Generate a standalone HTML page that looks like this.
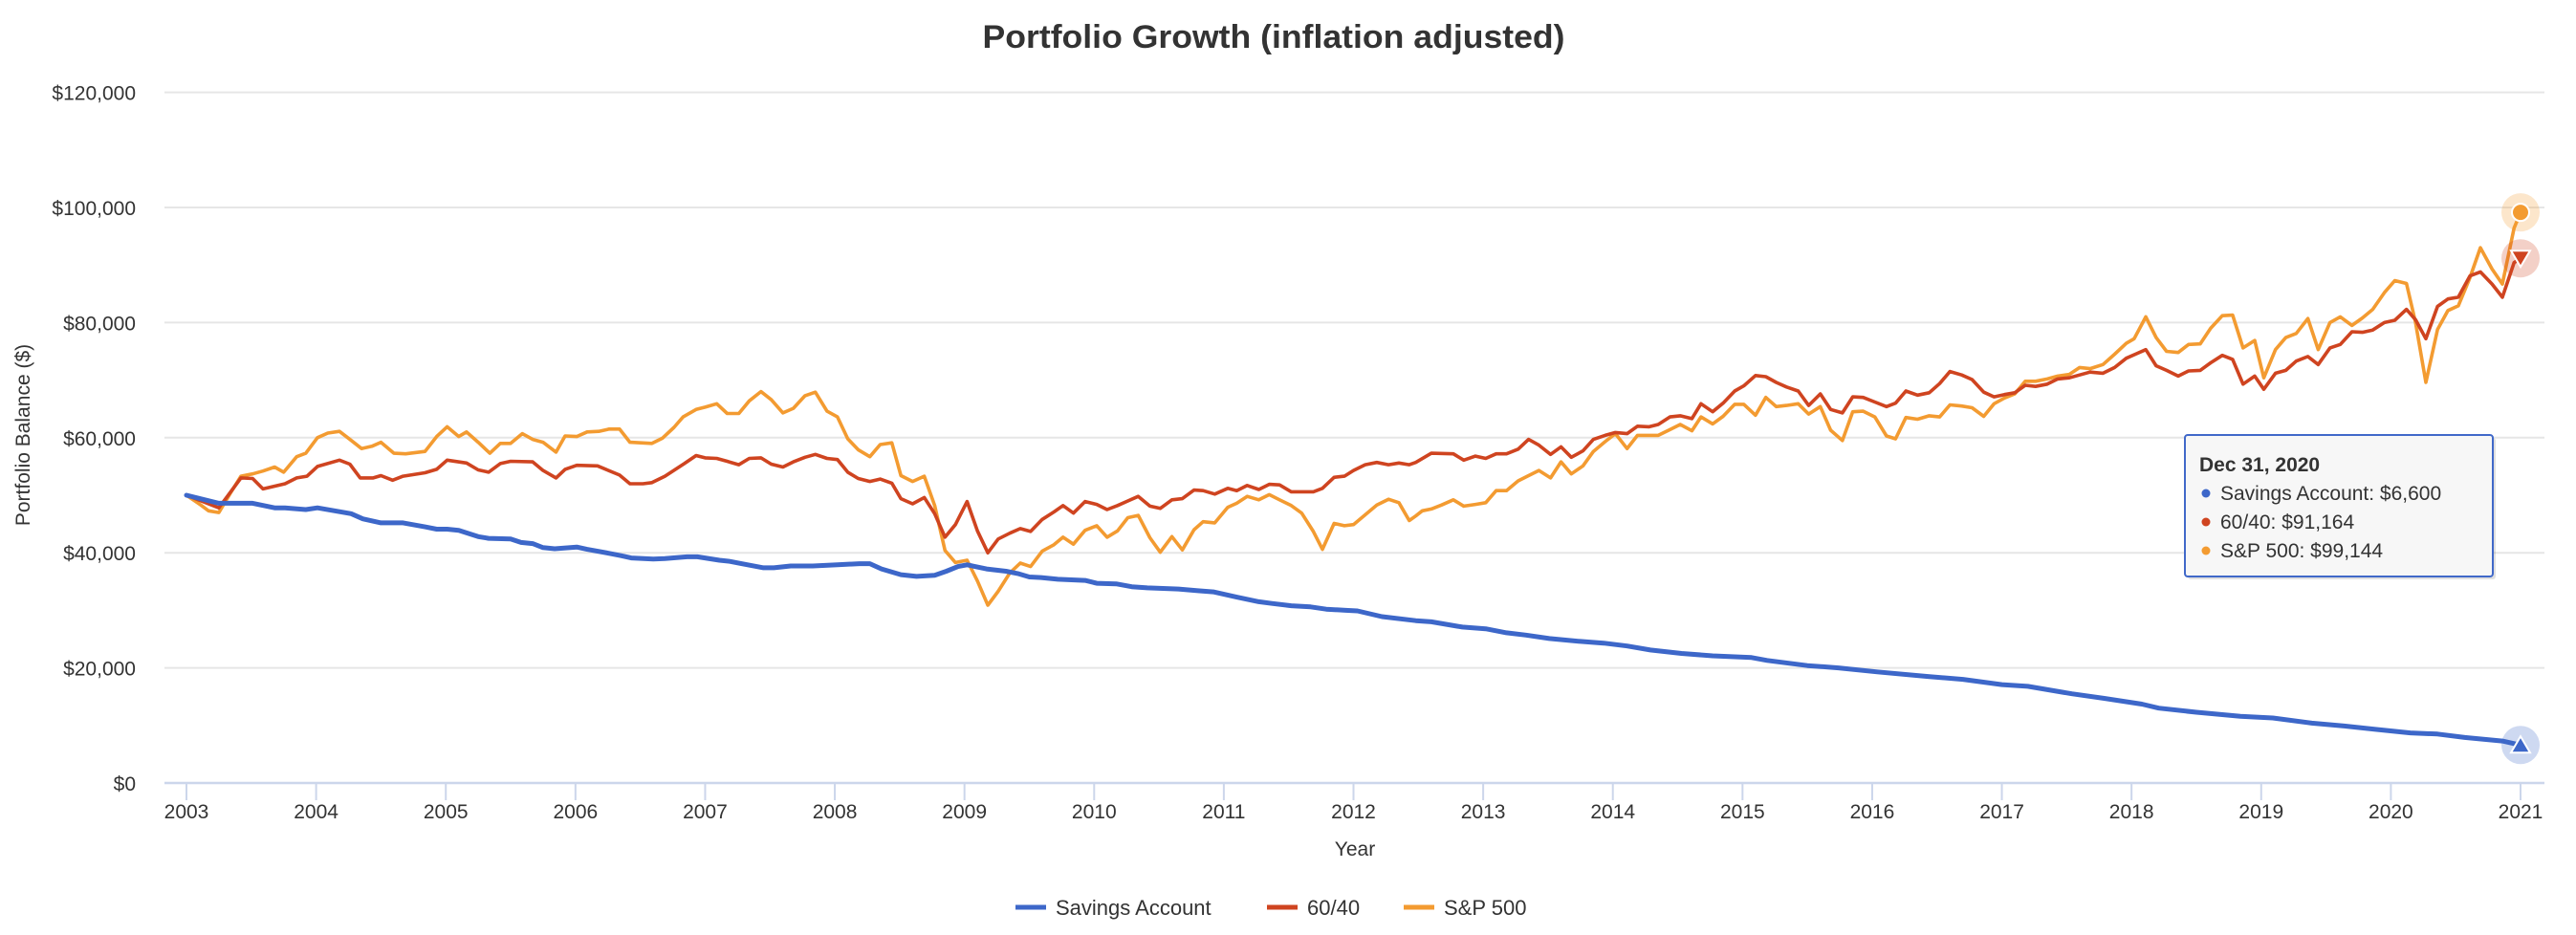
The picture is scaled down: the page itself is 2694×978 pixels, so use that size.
<!DOCTYPE html>
<html><head><meta charset="utf-8"><style>
html,body{margin:0;padding:0;background:#fff;}
svg{display:block;font-family:"Liberation Sans",Arial,sans-serif;}
</style></head><body>
<svg id="chart" width="2694" height="978" viewBox="0 0 2694 978" xmlns="http://www.w3.org/2000/svg">
<text x="1332" y="50" text-anchor="middle" font-size="34" font-weight="bold" fill="#333" textLength="609" lengthAdjust="spacingAndGlyphs">Portfolio Growth (inflation adjusted)</text>
<g id="grid"></g>
<g id="yticks"></g>
<g id="xaxis"></g>
<text transform="translate(31,455) rotate(-90)" text-anchor="middle" font-size="21" fill="#333">Portfolio Balance ($)</text>
<text x="1417" y="895" text-anchor="middle" font-size="21" fill="#333">Year</text>
<g id="series"></g>
<g id="markers"></g>
<g>
 <g><line x1="1062" y1="949" x2="1094" y2="949" stroke="#3d67c9" stroke-width="5"/><text x="1104" y="957" font-size="22" fill="#333">Savings Account</text></g>
 <g><line x1="1325" y1="949" x2="1357" y2="949" stroke="#cf4420" stroke-width="5"/><text x="1367" y="957" font-size="22" fill="#333">60/40</text></g>
 <g><line x1="1468" y1="949" x2="1500" y2="949" stroke="#f39b31" stroke-width="5"/><text x="1510" y="957" font-size="22" fill="#333">S&amp;P 500</text></g>
</g>
<g>
 <rect x="2288" y="458" width="322" height="148" rx="3" fill="#000" opacity="0.12"/>
 <rect x="2285" y="455" width="322" height="148" rx="3" fill="#f7f7f7" stroke="#4169c9" stroke-width="2"/>
 <text x="2300" y="493" font-size="21" font-weight="bold" fill="#333">Dec 31, 2020</text>
 <circle cx="2307" cy="516" r="4.5" fill="#3d67c9"/><text x="2322" y="523" font-size="21" fill="#333">Savings Account: $6,600</text>
 <circle cx="2307" cy="546" r="4.5" fill="#cf4420"/><text x="2322" y="553" font-size="21" fill="#333">60/40: $91,164</text>
 <circle cx="2307" cy="576" r="4.5" fill="#f39b31"/><text x="2322" y="583" font-size="21" fill="#333">S&amp;P 500: $99,144</text>
</g>
</svg>
<script>
const yTicks = [0, 20000, 40000, 60000, 80000, 100000, 120000];
const yTickLabels = ["$0","$20,000","$40,000","$60,000","$80,000","$100,000","$120,000"];
const xTicks = [2003,2004,2005,2006,2007,2008,2009,2010,2011,2012,2013,2014,2015,2016,2017,2018,2019,2020,2021];

const savingsDates = [2003.0,2003.25,2003.51,2003.68,2003.76,2003.92,2004.01,2004.27,2004.36,2004.5,2004.67,2004.84,2004.93,2005.01,2005.1,2005.25,2005.33,2005.5,2005.58,2005.67,2005.75,2005.84,2006.01,2006.09,2006.26,2006.35,2006.43,2006.6,2006.69,2006.86,2006.94,2007.11,2007.19,2007.28,2007.45,2007.53,2007.66,2007.83,2008.02,2008.19,2008.27,2008.36,2008.51,2008.63,2008.77,2008.86,2008.95,2009.02,2009.17,2009.32,2009.41,2009.5,2009.59,2009.72,2009.93,2010.02,2010.17,2010.29,2010.41,2010.65,2010.8,2010.92,2011.1,2011.27,2011.37,2011.52,2011.67,2011.79,2011.94,2012.03,2012.22,2012.48,2012.6,2012.84,2013.02,2013.18,2013.33,2013.51,2013.75,2013.93,2014.11,2014.29,2014.53,2014.77,2015.07,2015.19,2015.5,2015.74,2016.04,2016.43,2016.7,2017.0,2017.2,2017.54,2017.79,2018.08,2018.21,2018.5,2018.84,2019.09,2019.39,2019.64,2019.89,2020.15,2020.36,2020.57,2020.86,2021.0];
const savingsValues = [50,48.6,48.6,47.8,47.8,47.5,47.8,46.8,45.9,45.2,45.2,44.5,44.1,44.1,43.9,42.8,42.5,42.4,41.8,41.6,40.9,40.7,41,40.6,39.9,39.5,39.1,38.9,39,39.3,39.3,38.7,38.5,38.1,37.4,37.4,37.7,37.7,37.9,38.1,38.1,37.2,36.2,35.9,36.1,36.8,37.6,37.9,37.2,36.8,36.4,35.8,35.7,35.4,35.2,34.7,34.6,34.1,33.9,33.7,33.4,33.2,32.3,31.5,31.2,30.8,30.6,30.2,30,29.9,28.9,28.2,28,27.1,26.8,26.1,25.7,25.1,24.6,24.3,23.8,23.1,22.5,22.1,21.8,21.3,20.4,20,19.3,18.5,18,17.1,16.8,15.5,14.7,13.7,13,12.3,11.6,11.3,10.4,9.9,9.3,8.7,8.5,7.9,7.3,6.6];

const sixtyFortyDates = [2003.0,2003.25,2003.42,2003.51,2003.59,2003.76,2003.85,2003.93,2004.01,2004.18,2004.26,2004.34,2004.44,2004.5,2004.59,2004.67,2004.84,2004.93,2005.01,2005.16,2005.25,2005.33,2005.42,2005.5,2005.67,2005.75,2005.85,2005.92,2006.01,2006.17,2006.34,2006.42,2006.52,2006.59,2006.69,2006.84,2006.93,2007.0,2007.09,2007.17,2007.26,2007.34,2007.43,2007.51,2007.6,2007.68,2007.77,2007.85,2007.94,2008.02,2008.1,2008.18,2008.27,2008.35,2008.44,2008.51,2008.6,2008.69,2008.77,2008.85,2008.93,2009.02,2009.1,2009.18,2009.26,2009.35,2009.43,2009.51,2009.6,2009.69,2009.76,2009.84,2009.93,2010.02,2010.1,2010.18,2010.26,2010.34,2010.43,2010.51,2010.6,2010.68,2010.77,2010.84,2010.93,2011.03,2011.1,2011.18,2011.27,2011.35,2011.43,2011.52,2011.6,2011.69,2011.76,2011.85,2011.93,2012.0,2012.09,2012.18,2012.27,2012.35,2012.43,2012.48,2012.6,2012.77,2012.85,2012.94,2013.02,2013.1,2013.18,2013.27,2013.35,2013.43,2013.52,2013.6,2013.68,2013.77,2013.85,2013.94,2014.02,2014.11,2014.19,2014.28,2014.35,2014.44,2014.52,2014.61,2014.68,2014.77,2014.85,2014.94,2015.01,2015.1,2015.18,2015.26,2015.34,2015.43,2015.51,2015.6,2015.68,2015.77,2015.85,2015.93,2016.02,2016.11,2016.18,2016.26,2016.35,2016.44,2016.52,2016.6,2016.69,2016.77,2016.86,2016.94,2017.02,2017.1,2017.18,2017.26,2017.35,2017.43,2017.52,2017.6,2017.68,2017.78,2017.87,2017.96,2018.04,2018.11,2018.19,2018.27,2018.36,2018.44,2018.53,2018.61,2018.7,2018.78,2018.86,2018.95,2019.02,2019.11,2019.19,2019.27,2019.36,2019.44,2019.53,2019.61,2019.7,2019.78,2019.86,2019.95,2020.03,2020.12,2020.19,2020.27,2020.36,2020.44,2020.52,2020.61,2020.69,2020.78,2020.86,2020.95,2021.0];
const sixtyFortyValues = [50,47.8,53,52.9,51.1,52,53,53.3,55,56.1,55.4,53,53,53.4,52.6,53.3,53.9,54.5,56.1,55.6,54.4,54,55.5,55.9,55.8,54.3,53,54.5,55.2,55.1,53.5,52,52,52.2,53.3,55.5,56.9,56.5,56.4,55.9,55.3,56.4,56.5,55.4,54.9,55.8,56.6,57.1,56.4,56.2,54,52.9,52.4,52.8,52.1,49.4,48.5,49.6,46.8,42.7,44.9,48.9,43.8,40,42.4,43.4,44.2,43.7,45.8,47.1,48.2,46.9,48.9,48.4,47.5,48.2,49,49.8,48.1,47.7,49.2,49.4,50.9,50.8,50.2,51.2,50.8,51.7,51,51.9,51.8,50.6,50.6,50.6,51.2,53.1,53.3,54.3,55.3,55.7,55.3,55.6,55.3,55.7,57.3,57.2,56.1,56.8,56.4,57.2,57.2,58,59.7,58.7,57.1,58.4,56.6,57.7,59.7,60.4,60.9,60.7,62,61.9,62.3,63.6,63.8,63.3,65.9,64.5,66,68.1,69,70.8,70.6,69.6,68.8,68.1,65.6,67.6,64.9,64.3,67.1,67,66.2,65.4,66,68.1,67.4,67.8,69.4,71.5,70.9,70.1,67.9,67.1,67.5,67.8,69.1,68.9,69.3,70.2,70.4,70.9,71.4,71.2,72.2,73.8,74.6,75.3,72.5,71.7,70.7,71.6,71.7,73,74.3,73.6,69.3,70.7,68.4,71.2,71.7,73.3,74.1,72.7,75.6,76.2,78.4,78.3,78.7,80,80.4,82.3,80.5,77.2,82.8,84.1,84.4,88.1,88.8,86.7,84.4,90.4,91.164];

const sp500Dates = [2003.0,2003.11,2003.17,2003.25,2003.34,2003.42,2003.51,2003.59,2003.68,2003.75,2003.85,2003.92,2004.01,2004.09,2004.18,2004.26,2004.35,2004.43,2004.5,2004.6,2004.69,2004.84,2004.93,2005.01,2005.1,2005.16,2005.25,2005.34,2005.42,2005.5,2005.59,2005.67,2005.75,2005.85,2005.92,2006.01,2006.09,2006.18,2006.26,2006.34,2006.42,2006.59,2006.67,2006.76,2006.83,2006.93,2007.0,2007.09,2007.17,2007.26,2007.34,2007.43,2007.51,2007.6,2007.68,2007.77,2007.85,2007.94,2008.02,2008.1,2008.18,2008.27,2008.35,2008.44,2008.51,2008.6,2008.69,2008.77,2008.85,2008.93,2009.02,2009.1,2009.18,2009.26,2009.35,2009.43,2009.51,2009.6,2009.69,2009.76,2009.84,2009.93,2010.02,2010.1,2010.18,2010.26,2010.34,2010.43,2010.51,2010.6,2010.68,2010.77,2010.84,2010.93,2011.03,2011.1,2011.18,2011.27,2011.35,2011.43,2011.52,2011.6,2011.69,2011.76,2011.85,2011.93,2012.0,2012.09,2012.18,2012.27,2012.35,2012.43,2012.48,2012.53,2012.6,2012.68,2012.77,2012.85,2012.94,2013.02,2013.1,2013.18,2013.27,2013.35,2013.43,2013.52,2013.6,2013.68,2013.77,2013.85,2013.94,2014.02,2014.11,2014.19,2014.28,2014.35,2014.44,2014.52,2014.61,2014.68,2014.77,2014.85,2014.94,2015.01,2015.1,2015.18,2015.26,2015.34,2015.43,2015.51,2015.6,2015.68,2015.77,2015.85,2015.93,2016.02,2016.11,2016.18,2016.26,2016.35,2016.44,2016.52,2016.6,2016.69,2016.77,2016.86,2016.94,2017.02,2017.1,2017.18,2017.26,2017.35,2017.43,2017.52,2017.6,2017.68,2017.78,2017.87,2017.96,2018.02,2018.11,2018.19,2018.27,2018.36,2018.44,2018.53,2018.61,2018.7,2018.78,2018.86,2018.95,2019.02,2019.11,2019.19,2019.27,2019.36,2019.44,2019.53,2019.61,2019.7,2019.78,2019.86,2019.95,2020.03,2020.12,2020.19,2020.27,2020.36,2020.44,2020.52,2020.61,2020.69,2020.78,2020.86,2020.95,2021.0];
const sp500Values = [50,48.3,47.3,47,50.4,53.3,53.7,54.2,54.9,54,56.7,57.3,60,60.8,61.1,59.7,58.1,58.5,59.2,57.3,57.2,57.6,60.2,61.9,60.2,61,59.2,57.3,59,59,60.7,59.7,59.2,57.5,60.3,60.2,61,61.1,61.5,61.5,59.2,59,59.9,61.8,63.6,64.9,65.3,65.9,64.2,64.2,66.4,68,66.6,64.3,65.1,67.3,67.9,64.6,63.6,59.8,57.9,56.7,58.8,59.1,53.4,52.4,53.3,48.2,40.4,38.3,38.7,35.1,30.9,33.3,36.5,38.2,37.6,40.3,41.4,42.7,41.5,43.9,44.7,42.7,43.8,46.1,46.5,42.6,40.1,42.8,40.5,44,45.4,45.2,47.9,48.6,49.8,49.2,50.1,49.2,48.2,46.9,43.7,40.6,45.1,44.7,44.9,46.6,48.3,49.3,48.7,45.6,46.4,47.3,47.6,48.3,49.2,48.1,48.4,48.7,50.8,50.8,52.5,53.4,54.3,53,55.8,53.7,55.1,57.6,59.3,60.7,58.1,60.4,60.4,60.4,61.4,62.3,61.2,63.6,62.4,63.7,65.8,65.8,63.9,67,65.4,65.6,65.9,64.1,65.4,61.3,59.5,64.5,64.6,63.6,60.3,59.8,63.5,63.2,63.8,63.6,65.7,65.5,65.2,63.7,65.9,66.9,67.6,69.8,69.8,70.2,70.7,71,72.2,72,72.7,74.5,76.4,77.2,81,77.4,75,74.8,76.2,76.3,79,81.2,81.3,75.6,76.9,70.4,75.3,77.4,78.1,80.7,75.3,80,81,79.5,80.8,82.3,85.2,87.3,86.8,80,69.6,78.8,82.1,82.9,87.8,93,89.3,86.7,96.4,99.144];

const NS = "http://www.w3.org/2000/svg";
const X0 = 195, X1 = 2636, Y0 = 819, PX_PER_K = 6.02;
function xScale(yr){ return X0 + (yr - 2003) / 18 * (X1 - X0); }
function yScale(v){ return Y0 - v / 1000 * PX_PER_K; }
function mk(tag, attrs, parent){ const e=document.createElementNS(NS,tag); for(const k in attrs) e.setAttribute(k,attrs[k]); parent.appendChild(e); return e; }

const grid=document.getElementById('grid'), yt=document.getElementById('yticks'), xa=document.getElementById('xaxis');
yTicks.forEach((v,i)=>{
  if(v>0){
    const l=mk('line',{x1:172,x2:2661,y1:yScale(v),y2:yScale(v),stroke:'#e6e6e6','stroke-width':2},grid);
    
    
  }
  const t=mk('text',{x:142,y:yScale(v)+8,'text-anchor':'end','font-size':21,fill:'#333'},yt);
  t.textContent=yTickLabels[i];
  
  
});
const axl=mk('line',{x1:172,x2:2661,y1:Y0,y2:Y0,stroke:'#ccd6eb','stroke-width':2.5},xa);


xTicks.forEach(yr=>{
  const x=xScale(yr);
  const tk=mk('line',{x1:x,x2:x,y1:Y0,y2:Y0+18,stroke:'#ccd6eb','stroke-width':2},xa);
  
  
  const t=mk('text',{x:x,y:856,'text-anchor':'middle','font-size':21,fill:'#333'},xa);
  t.textContent=String(yr);
  
  
});

const sg=document.getElementById('series');
function drawLine(dates, vals, color, w, name){
  const pts=dates.map((d,i)=>xScale(d).toFixed(1)+','+yScale(vals[i]*1000).toFixed(1)).join(' ');
  const p=mk('polyline',{points:pts,fill:'none',stroke:color,'stroke-width':w,'stroke-linejoin':'round','stroke-linecap':'round'},sg);
  
  
}
drawLine(sp500Dates,sp500Values,'#f39b31',3.6,'sp500-line');
drawLine(sixtyFortyDates,sixtyFortyValues,'#cf4420',3.6,'sixty-forty-line');
drawLine(savingsDates,savingsValues,'#3d67c9',5,'savings-account-line');

const mg=document.getElementById('markers');
const ex=xScale(savingsDates[savingsDates.length-1]);
// S&P circle
let ys=yScale(sp500Values[sp500Values.length-1]*1000);
let h=mk('circle',{cx:ex,cy:ys,r:20,fill:'#f39b31',opacity:0.25},mg);


let m=mk('circle',{cx:ex,cy:ys,r:9,fill:'#f39b31',stroke:'#fff','stroke-width':2},mg);


// 60/40 triangle down
let yr6=yScale(sixtyFortyValues[sixtyFortyValues.length-1]*1000);
h=mk('circle',{cx:ex,cy:yr6,r:20,fill:'#cf4420',opacity:0.25},mg);


m=mk('polygon',{points:`${ex-10},${yr6-8} ${ex+10},${yr6-8} ${ex},${yr6+9}`,fill:'#cf4420',stroke:'#fff','stroke-width':2},mg);


// savings triangle up
let yb=yScale(savingsValues[savingsValues.length-1]*1000);
h=mk('circle',{cx:ex,cy:yb,r:20,fill:'#3d67c9',opacity:0.25},mg);


m=mk('polygon',{points:`${ex-10},${yb+8} ${ex+10},${yb+8} ${ex},${yb-9}`,fill:'#3d67c9',stroke:'#fff','stroke-width':2},mg);


</script>
</body></html>
